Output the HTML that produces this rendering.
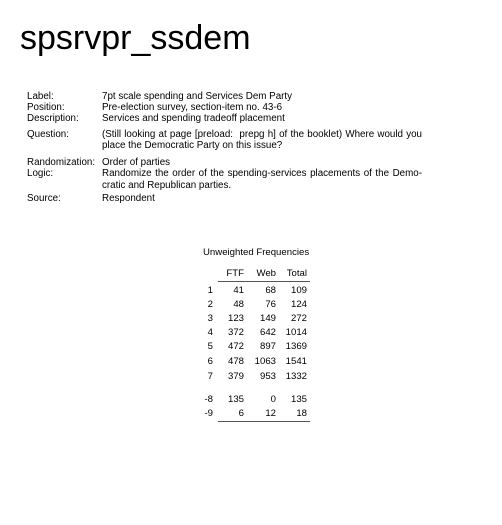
<!DOCTYPE html>
<html><head><meta charset="utf-8"><style>
body{margin:0;width:502px;height:525px;background:#fff;font-family:"Liberation Sans",sans-serif;color:#000;position:relative;overflow:hidden}
.t{position:absolute;left:20px;top:19px;font-size:34px;line-height:38px}
.r{position:absolute;font-size:9.8px;line-height:11.3px;white-space:nowrap}
.l{left:27px}.v{left:102px}
.j{width:320px;text-align:justify;text-align-last:justify}
.n{position:absolute;font-size:9.6px;line-height:11px;text-align:right;width:40px}
.hl{position:absolute;left:218px;width:92px;border-top:1px solid #555}
</style></head><body>
<div class="t">spsrvpr_ssdem</div>
<div class="r l" style="top:91px">Label:</div><div class="r v" style="top:91px">7pt scale spending and Services Dem Party</div>
<div class="r l" style="top:102px">Position:</div><div class="r v" style="top:102px">Pre-election survey, section-item no. 43-6</div>
<div class="r l" style="top:113px">Description:</div><div class="r v" style="top:113px">Services and spending tradeoff placement</div>
<div class="r l" style="top:129px">Question:</div><div class="r v j" style="top:129px">(Still looking at page [preload:&nbsp; prepg h] of the booklet) Where would you</div>
<div class="r v" style="top:140px">place the Democratic Party on this issue?</div>
<div class="r l" style="top:157px">Randomization:</div><div class="r v" style="top:157px">Order of parties</div>
<div class="r l" style="top:168px">Logic:</div><div class="r v j" style="top:168px">Randomize the order of the spending-services placements of the Demo-</div>
<div class="r v" style="top:180px">cratic and Republican parties.</div>
<div class="r l" style="top:193px">Source:</div><div class="r v" style="top:193px">Respondent</div>
<div class="r" style="left:203px;top:247px;font-size:9.6px">Unweighted Frequencies</div>
<div id="tb"></div>
<div class="hl" style="top:281px"></div>
<div class="hl" style="top:421px"></div>
<script>
var rows=[["","FTF","Web","Total",268],["1","41","68","109",285],["2","48","76","124",299],["3","123","149","272",313],["4","372","642","1014",327],["5","472","897","1369",341],["6","478","1063","1541",356],["7","379","953","1332",371],["-8","135","0","135",394],["-9","6","12","18",408]];
var xs=[213,244,276,307],h="";
rows.forEach(function(r){for(var i=0;i<4;i++){h+='<div class="n" style="left:'+(xs[i]-40)+'px;top:'+r[4]+'px">'+r[i]+'</div>';}});
document.getElementById("tb").innerHTML=h;
</script>
</body></html>
